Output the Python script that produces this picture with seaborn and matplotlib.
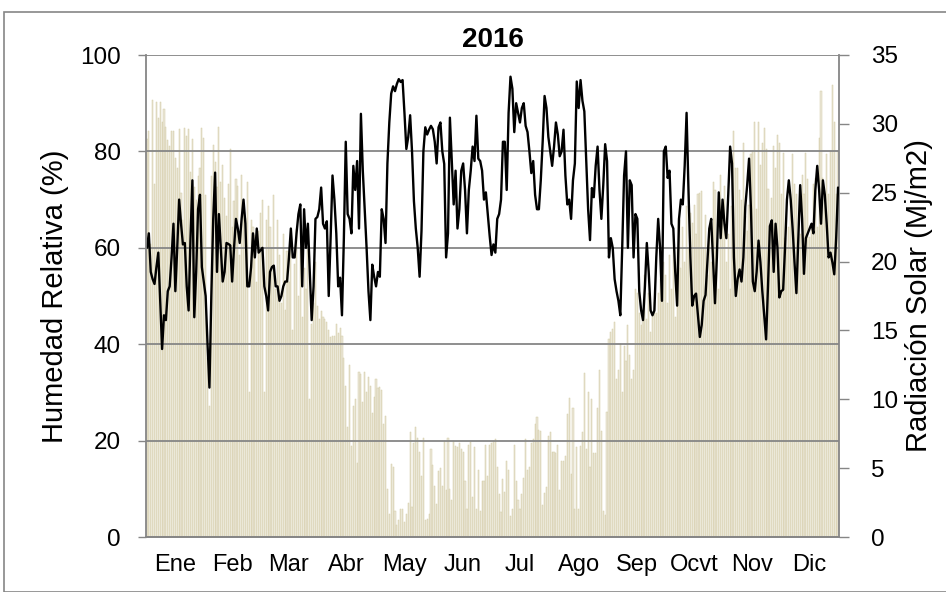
import numpy as np
import pandas as pd
import seaborn as sns
import matplotlib.pyplot as plt
from matplotlib.patches import Rectangle

# Month labels and lengths (2016 leap year)
months = ['Ene', 'Feb', 'Mar', 'Abr', 'May', 'Jun', 'Jul', 'Ago', 'Sep', 'Ocvt', 'Nov', 'Dic']
month_days = [31, 29, 31, 30, 31, 30, 31, 31, 30, 31, 30, 31]

# Humedad relativa diaria (%)
hum_ene = [60, 63, 55, 53.5, 52.5, 56, 59, 49, 39, 46, 45, 51, 52, 58, 65, 51, 60, 70, 65, 60.7,
           61, 52, 47, 62, 74, 45.6, 55, 68, 71, 56, 53]
hum_feb = [50, 40, 31, 50, 66, 75.6, 55, 67, 60, 53, 55, 61, 60.8, 60.5, 53, 60, 66, 64, 61, 66,
           70, 65, 52, 52, 56, 63, 58, 64, 59]
hum_mar = [59.5, 60, 52, 50, 47, 55, 56, 56.3, 52, 52, 49, 50, 52, 53, 53, 58, 64, 58, 58, 63,
           67, 69, 52, 68, 60, 65, 55, 45, 52, 66, 66.4]
hum_abr = [68, 72.5, 65, 64, 65.5, 50, 62, 75, 70, 63, 52, 53.8, 46, 62, 82, 67, 66, 63, 77, 72,
           78, 64, 87.8, 76, 68, 60, 51, 45, 56.5, 54]
hum_may = [52, 55, 54, 68, 66, 61, 77.5, 86, 92, 93.5, 92.5, 94, 95, 94.4, 94.8, 88, 80.5, 83, 87.5, 80,
           69.7, 64, 60, 54, 63.5, 80, 85, 83.5, 84.5, 85.3, 84.6]
hum_jun = [82, 77.5, 85, 86, 80, 77.4, 58, 63, 87, 78, 69, 76, 64, 68, 76, 77.5, 72, 63, 72, 76,
           81, 78, 87.4, 78.5, 78, 76, 70, 71.5, 67, 62.5]
hum_jul = [58.5, 60.7, 59, 66, 67, 70, 82, 82, 72, 88, 95.5, 93, 84, 90, 88, 86, 89, 90, 85.3, 84,
           80, 75.5, 78, 71, 68, 68, 74, 82, 91.5, 89, 83]
hum_ago = [80, 77, 81, 86, 83.5, 79, 80, 84.5, 75, 69, 70, 66, 74, 77.5, 94.5, 89, 94.8, 90.5, 88.3, 78,
           68, 61.6, 72.4, 70.5, 77, 81, 72, 66, 73, 81.5, 78]
hum_sep = [58, 62, 60, 53.5, 51, 49, 46, 60, 75, 80, 60, 74, 73, 58, 67, 66, 51, 47, 45, 52,
           61, 55, 47, 46, 47, 58, 66, 60, 49, 80]
hum_oct = [81, 74.5, 76, 65, 64, 55, 48, 66, 70, 69, 77, 88, 72, 58, 48, 50, 50.5, 46, 41.5, 44,
           49, 50.2, 57, 64, 66, 57, 48.5, 58, 71.5, 62, 70]
hum_nov = [65, 62, 71, 81, 77.5, 58, 50, 53.6, 55.5, 53, 58, 68.5, 73, 78.5, 68, 53, 51, 55, 61.5, 57,
           51, 46, 41, 52, 64.5, 65.7, 55, 65, 60, 49.7]
hum_dic = [51, 51.3, 60, 70, 74, 70, 64, 57, 50.6, 62, 73, 66, 54.6, 62, 63, 64, 65, 63, 72, 77,
           72, 65, 74, 71, 65, 58, 59, 57, 54.5, 62, 72.5]

# Radiacion solar diaria (Mj/m2)
rad_ene = [28.9, 29.5, 21.3, 31.7, 25.6, 31.6, 30.4, 31.6, 30.1, 31.1, 29.8, 28.8, 28.4, 29.5, 29.5, 27.5,
           26.8, 29.6, 25.0, 23.0, 29.7, 29.1, 29.6, 26.5, 28.9, 25.4, 24.5, 26.2, 26.8, 29.7, 29.0]
rad_feb = [24.8, 13.0, 9.5, 26.2, 28.5, 27.2, 25.4, 29.8, 25.8, 27.0, 24.6, 23.3, 25.6, 28.2, 22.5,
           24.4, 26.0, 25.5, 20.5, 26.3, 24.1, 23.2, 25.8, 10.5, 23.0, 22.5, 21.9, 18.5, 22.2]
rad_mar = [23.5, 24.5, 10.5, 23.0, 24.0, 22.5, 21.0, 24.8, 18.0, 23.0, 20.5, 17.0, 22.0, 16.5, 20.8, 18.5,
           21.5, 15.0, 19.8, 22.4, 17.5, 21.0, 16.0, 19.5, 18.0, 21.0, 10.0, 15.5, 17.0, 20.0, 16.8]
rad_abr = [15.8, 16.4, 16.0, 15.8, 15.6, 15.0, 14.5, 14.6, 14.6, 15.5, 14.8, 15.2, 14.6, 13.0, 11.0,
           8.0, 12.5, 6.6, 9.5, 10.0, 5.4, 12.0, 11.8, 9.8, 12.0, 10.5, 11.6, 11.0, 9.0, 10.2]
rad_may = [11.5, 10.8, 10.9, 10.7, 8.2, 8.8, 3.5, 1.7, 5.3, 5.1, 1.9, 0.9, 1.2, 2.0, 2.0, 1.1,
           1.7, 2.5, 7.6, 2.2, 6.8, 8.0, 7.2, 6.2, 4.4, 7.2, 1.2, 1.3, 1.7, 6.4, 5.2]
rad_jun = [3.7, 2.4, 4.8, 5.0, 3.7, 7.0, 3.4, 7.2, 3.5, 2.7, 7.0, 6.6, 6.5, 6.8, 6.4,
           6.2, 4.1, 2.0, 6.7, 6.9, 2.9, 6.5, 2.0, 4.9, 1.9, 4.1, 4.1, 6.7, 4.4, 6.7]
rad_jul = [6.8, 7.0, 7.1, 5.1, 3.1, 1.8, 4.2, 3.3, 5.5, 4.9, 1.5, 2.0, 6.7, 4.1, 2.7, 2.0,
           3.1, 4.3, 7.1, 4.9, 5.1, 6.8, 7.1, 8.2, 8.7, 7.8, 7.7, 2.3, 3.2, 3.6, 7.3]
rad_ago = [7.6, 6.2, 6.2, 6.1, 6.7, 3.4, 5.5, 5.5, 5.9, 8.9, 10.1, 4.6, 9.4, 2.0, 6.5, 2.0,
           6.6, 7.6, 11.9, 6.4, 10.5, 5.1, 10.0, 6.1, 6.1, 9.4, 12.1, 7.7, 1.9, 1.6, 9.1]
rad_sep = [14.4, 14.9, 15.1, 15.6, 11.5, 12.1, 14.0, 10.5, 13.9, 12.8, 15.4, 13.2, 11.5, 12.1, 18.0,
           17.7, 16.3, 15.4, 16.3, 19.0, 15.8, 17.7, 14.9, 16.3, 17.1, 16.3, 17.7, 18.7, 18.5, 20.0]
rad_oct = [19.0, 17.0, 20.5, 18.0, 22.0, 16.0, 21.0, 23.0, 19.5, 22.5, 20.0, 24.0, 21.0, 23.5, 22.8, 24.1,
           22.0, 24.9, 25.0, 25.1, 21.0, 23.4, 19.0, 22.0, 20.0, 25.8, 25.2, 21.0, 18.0, 26.3, 23.0]
rad_nov = [25.5, 20.0, 22.0, 18.0, 24.0, 29.5, 26.8, 26.8, 25.2, 24.5, 28.6, 23.3, 22.2, 24.1, 27.8,
           28.0, 30.1, 23.8, 30.1, 27.0, 28.6, 29.7, 28.2, 25.3, 22.2, 24.6, 28.4, 26.8, 29.2, 28.6]
rad_dic = [24.9, 27.9, 21.7, 21.0, 22.5, 24.9, 27.8, 25.6, 24.9, 21.8, 22.0, 26.3, 24.9, 27.9, 26.0, 21.8,
           22.5, 25.6, 26.1, 22.5, 29.0, 32.4, 26.1, 25.1, 27.8, 24.9, 28.0, 32.8, 30.1, 24.9, 28.0]

hum = (hum_ene + hum_feb + hum_mar + hum_abr + hum_may + hum_jun +
       hum_jul + hum_ago + hum_sep + hum_oct + hum_nov + hum_dic)
rad = (rad_ene + rad_feb + rad_mar + rad_abr + rad_may + rad_jun +
       rad_jul + rad_ago + rad_sep + rad_oct + rad_nov + rad_dic)

df = pd.DataFrame({'dia': np.arange(len(hum)), 'hum': hum, 'rad': rad})

sns.set_style('white')
plt.rcParams['font.family'] = ['Liberation Sans', 'DejaVu Sans']
plt.rcParams['text.color'] = 'black'
plt.rcParams['axes.labelcolor'] = 'black'
plt.rcParams['xtick.color'] = 'black'
plt.rcParams['ytick.color'] = 'black'

grey = '#868686'
fig = plt.figure(figsize=(9.46, 5.92), dpi=100)
ax = fig.add_axes([146 / 946, 55 / 592, 693 / 946, 482 / 592])
ax2 = ax.twinx()

# radiation bars (right axis)
sns.barplot(data=df, x='dia', y='rad', ax=ax2, native_scale=True, width=0.6,
            color='#ebe8d9', edgecolor='#d3cba5', linewidth=0.35, saturation=1)

# humidity line (left axis) on top
ax.set_zorder(ax2.get_zorder() + 1)
ax.patch.set_visible(False)
sns.lineplot(data=df, x='dia', y='hum', ax=ax, color='black', linewidth=1.7)

ax.set_xlim(-0.5, len(hum) - 0.5)
ax.set_ylim(0, 100)
ax.set_yticks(range(0, 101, 20))
ax2.set_ylim(0, 35)
ax2.set_yticks(range(0, 36, 5))

starts = np.cumsum([0] + month_days[:-1])
centers = starts + np.array(month_days) / 2 - 0.5
ax.set_xticks(centers)
ax.set_xticklabels(months)
ax.set_xlabel('')

ax.yaxis.grid(True, color=grey, linewidth=1.3)
ax.xaxis.grid(False)
ax2.grid(False)

for a in (ax, ax2):
    for s in a.spines.values():
        s.set_color(grey)
        s.set_linewidth(1.3)
    a.spines['top'].set_visible(False)
ax.spines['right'].set_visible(False)
ax2.spines['left'].set_visible(False)

ax.tick_params(axis='y', direction='out', length=6, width=1, color=grey, labelsize=17.5, pad=12)
ax.tick_params(axis='x', length=0, labelsize=17, pad=12)
ax2.tick_params(axis='y', direction='out', length=7, width=1, color=grey, labelsize=17.5, pad=16)

ax.set_ylabel('Humedad Relativa (%)', fontsize=21)
ax.yaxis.set_label_coords(-0.111, 0.5)
ax2.set_ylabel('Radiación Solar (Mj/m2)', fontsize=21)
ax2.yaxis.set_label_coords(1.095, 0.5)

ax.set_title('2016', fontsize=20, fontweight='bold', pad=6)

fig.add_artist(Rectangle((4 / 946, 0), 0.999, 580 / 592, transform=fig.transFigure,
                         fill=False, edgecolor=grey, linewidth=1.2))

fig.savefig('out.png', dpi=100)
